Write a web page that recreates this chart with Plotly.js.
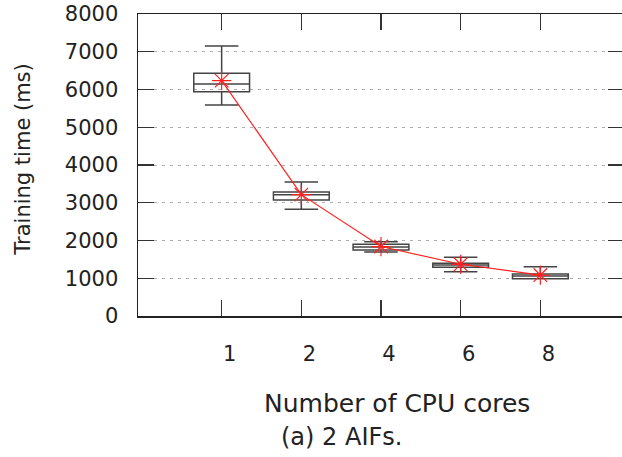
<!DOCTYPE html>
<html>
<head>
<meta charset="utf-8">
<script src="https://cdn.plot.ly/plotly-3.0.1.min.js"></script>
<style>
html, body { margin: 0; padding: 0; overflow: hidden; background: #fff; }
#chart { width: 625px; height: 457px; }
</style>
</head>
<body>
<div id="chart"></div>
<script>
// Data
const cores = ['1', '2', '4', '6', '8'];
const lowerWhisker = [5590, 2830, 1695, 1175, 985];
const q1Values = [5940, 3075, 1750, 1290, 990];
const medianValues = [6145, 3215, 1830, 1350, 1060];
const q3Values = [6430, 3285, 1900, 1395, 1110];
const upperWhisker = [7150, 3550, 1965, 1555, 1305];
const meanValues = [6235, 3215, 1840, 1370, 1085];
const yTicks = [0, 1000, 2000, 3000, 4000, 5000, 6000, 7000, 8000];

const pos = cores.map((c, i) => i + 1);

const boxTrace = {
  type: 'box',
  x: pos,
  q1: q1Values,
  median: medianValues,
  q3: q3Values,
  lowerfence: lowerWhisker,
  upperfence: upperWhisker,
  boxpoints: false,
  width: 0.7,
  whiskerwidth: 0.6,
  fillcolor: 'rgba(255,255,255,0)',
  line: { color: '#444', width: 1.5 },
  showlegend: false,
  hoverinfo: 'skip'
};

const meanTrace = {
  type: 'scatter',
  mode: 'lines+markers',
  x: pos,
  y: meanValues,
  line: { color: '#ff2020', width: 1.2 },
  marker: { symbol: 'asterisk-open', size: 16, color: '#ff2020', line: { color: '#ff2020', width: 1.2 } },
  showlegend: false,
  hoverinfo: 'skip'
};

const fontFam = 'DejaVu Sans, sans-serif';

const layout = {
  width: 625,
  height: 457,
  margin: { l: 138, r: 1, t: 14, b: 141, pad: 0 },
  paper_bgcolor: '#fff',
  plot_bgcolor: '#fff',
  showlegend: false,
  font: { family: fontFam, color: '#222', size: 21 },
  xaxis: {
    range: [-0.05, 6.05],
    tickmode: 'array',
    tickvals: pos,
    ticktext: cores,
    ticks: 'inside',
    ticklen: 16,
    tickwidth: 1.2,
    tickcolor: '#333',
    showline: true,
    linecolor: '#222',
    linewidth: 1.5,
    mirror: 'ticks',
    showgrid: false,
    zeroline: false,
    tickfont: { family: fontFam, size: 21, color: '#222' },
    ticklabelshift: 8,
    ticklabelstandoff: 18
  },
  yaxis: {
    range: [0, 8000],
    tickmode: 'array',
    tickvals: yTicks,
    ticktext: yTicks.map(String),
    ticks: 'inside',
    ticklen: 16,
    tickwidth: 1.2,
    tickcolor: '#333',
    showline: true,
    linecolor: '#222',
    linewidth: 1.5,
    mirror: 'ticks',
    showgrid: true,
    gridcolor: '#b0b0b0',
    gridwidth: 1,
    griddash: '3px,5px',
    zeroline: false,
    tickfont: { family: fontFam, size: 21, color: '#222' },
    ticklabelstandoff: 14
  },
  annotations: [
    {
      text: 'Number of CPU cores', xref: 'paper', yref: 'paper',
      x: 0.533, y: -0.291, xanchor: 'center', yanchor: 'middle',
      showarrow: false, font: { family: fontFam, size: 25, color: '#222' }
    },
    {
      text: '(a) 2 AIFs.', xref: 'paper', yref: 'paper',
      x: 0.418, y: -0.401, xanchor: 'center', yanchor: 'middle',
      showarrow: false, font: { family: fontFam, size: 24, color: '#222' }
    },
    {
      text: 'Training time (ms)', xref: 'paper', yref: 'paper',
      x: -0.237, y: 0.517, xanchor: 'center', yanchor: 'middle', textangle: -90,
      showarrow: false, font: { family: fontFam, size: 21, color: '#222' }
    }
  ]
};

Plotly.newPlot('chart', [boxTrace, meanTrace], layout, { displayModeBar: false, staticPlot: true });
</script>
</body>
</html>
